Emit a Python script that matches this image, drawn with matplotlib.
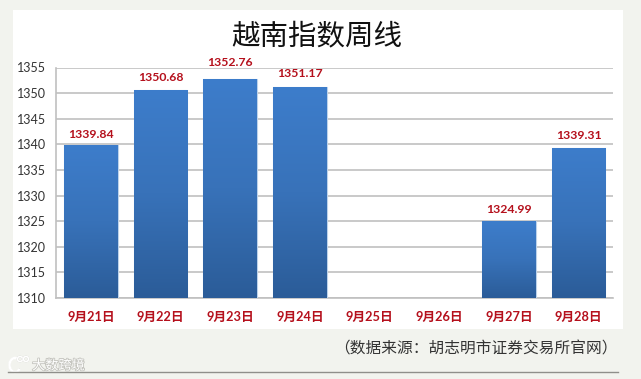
import matplotlib
matplotlib.use("Agg")
import matplotlib.pyplot as plt
import matplotlib.patheffects as pe
from matplotlib.patches import Arc, Circle
import numpy as np

plt.rcParams['font.family'] = ['Lato', 'Noto Sans CJK SC', 'DejaVu Sans']

dates = ['9月21日', '9月22日', '9月23日', '9月24日', '9月25日', '9月26日', '9月27日', '9月28日']
values = [1339.84, 1350.68, 1352.76, 1351.17, None, None, 1324.99, 1339.31]
yticks = [1310, 1315, 1320, 1325, 1330, 1335, 1340, 1345, 1350, 1355]

# Abstand der Werte ueber den Balken, in Punkt
label_gap = [3.5, 5, 8, 5.5, 0, 0, 4.3, 4.7]

W, H = 641, 379
bg = '#f2f3ee'
red = '#b5101c'
cjk = ['Noto Sans CJK SC', 'DejaVu Sans']

fig = plt.figure(figsize=(W / 100, H / 100), dpi=100, facecolor=bg)

# weisse Flaeche hinter dem Diagramm
panel = fig.add_axes([13 / W, 1 - 329 / H, 610 / W, 319 / H])
panel.set_facecolor('white')
panel.set_xticks([])
panel.set_yticks([])
for s in panel.spines.values():
    s.set_visible(False)

ax = fig.add_axes([56.2 / W, 1 - 298 / H, 557.1 / W, 230.5 / H])
ax.set_facecolor('none')
ax.set_yticks(yticks)
ax.set_xticks(range(len(dates)))
ax.set_xticklabels(dates, color=red, fontsize=9.2, fontweight='bold')
ax.tick_params(axis='x', length=0, pad=9)
ax.tick_params(axis='y', length=0, pad=7.5, labelsize=9, labelcolor='#333333')
ax.grid(axis='y', color='#c0c0c0', lw=1.2)
ax.set_axisbelow(True)
for s in ['top', 'right']:
    ax.spines[s].set_visible(False)
for s in ['left', 'bottom']:
    ax.spines[s].set_color('#c0c0c0')
    ax.spines[s].set_linewidth(1.2)

grad = np.linspace(0, 1, 256).reshape(-1, 1)
cmap = matplotlib.colors.LinearSegmentedColormap.from_list('bar', ['#3d7dcb', '#3872b9', '#2b5c98'])

for i, v in enumerate(values):
    if v is None:
        continue
    bar = ax.bar(i, v - 1310, bottom=1310, width=0.77, color='#3a74bc',
                 edgecolor='#bcd2ea', lw=0.8, zorder=3)[0]
    im = ax.imshow(grad, extent=[i - 0.385, i + 0.385, 1310, v], aspect='auto',
                   cmap=cmap, origin='upper', zorder=4)
    im.set_clip_path(bar)
    ax.annotate(f'{v:.2f}', (i, v), xytext=(0, label_gap[i]), textcoords='offset points',
                ha='center', va='bottom', color=red, fontsize=8.8, fontweight='bold',
                zorder=5, annotation_clip=False)
ax.set_xlim(-0.5, 7.5)
ax.set_ylim(1310, 1355)

fig.text(317 / W, 1 - 36 / H, '越南指数周线', ha='center', va='center', fontsize=20.5,
         color='#111111', family=cjk)
fig.text(475.5 / W, 1 - 349 / H, '（数据来源：胡志明市证券交易所官网）',
         ha='center', va='center', fontsize=11.3, color='#333333', family=cjk)

# Linie unten und Wasserzeichen, in Pixelkoordinaten
over = fig.add_axes([0, 0, 1, 1])
over.set_xlim(0, W)
over.set_ylim(H, 0)
over.axis('off')
over.plot([8, 618], [372, 372], color='#8f8f8a', lw=1)

outline = [pe.withStroke(linewidth=1.2, foreground='#c4c4be')]
over.text(32, 366, '大数跨境', ha='left', va='center', fontsize=9.5, color='white',
          family=cjk, path_effects=outline)
logo = [Arc((15, 365), 11, 14, theta1=40, theta2=300, color='white', lw=1.8),
        Circle((20, 359), 2.5, fc='none', ec='white', lw=1.2),
        Circle((26, 359), 2.5, fc='none', ec='white', lw=1.2)]
for p in logo:
    p.set_path_effects(outline)
    over.add_patch(p)

fig.savefig('out.png', dpi=100, facecolor=bg)
